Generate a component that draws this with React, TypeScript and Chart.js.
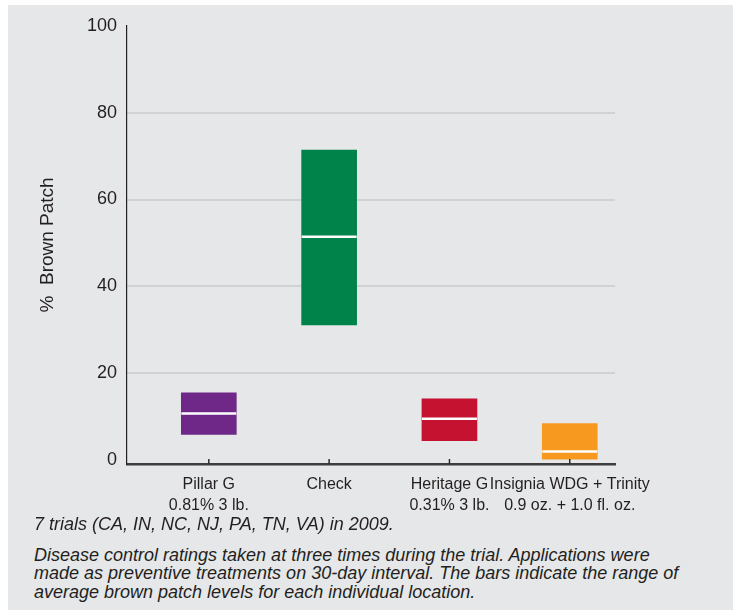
import React, { useEffect, useRef } from 'react';
import { Chart, registerables } from 'chart.js';

Chart.register(...registerables);

// ---- data ----
const categories = ['Pillar G', 'Check', 'Heritage G', 'Insignia WDG + Trinity'];
const rates = ['0.81% 3 lb.', '', '0.31% 3 lb.', '0.9 oz. + 1.0 fl. oz.'];
const lows = [5.9, 31.1, 4.5, 0];
const highs = [15.5, 71.4, 14.1, 8.4];
const medians = [10.7, 51.4, 9.5, 2.0];
const barColors = ['#6f2887', '#00834a', '#c41230', '#f7991f'];
const yTickValues = [0, 20, 40, 60, 80, 100];
const yTitle = '%  Brown Patch';
const note1 = '7 trials (CA, IN, NC, NJ, PA, TN, VA) in 2009.';
const note2 =
  'Disease control ratings taken at three times during the trial. Applications were made as preventive treatments on 30-day interval. The bars indicate the range of average brown patch levels for each individual location.';

const FONT = "'Liberation Sans', Arial, Helvetica, sans-serif";
const TEXT = '#231f20';

const overlayPlugin = {
  id: 'overlay',
  afterDatasetsDraw(chart: any) {
    const ctx = chart.ctx;
    const meta = chart.getDatasetMeta(0);
    const ys = chart.scales.y;
    const xs = chart.scales.x;
    ctx.save();
    ctx.strokeStyle = '#ffffff';
    ctx.lineWidth = 2.5;
    meta.data.forEach((bar: any, i: number) => {
      const { x, width } = bar.getProps(['x', 'width'], true);
      const py = ys.getPixelForValue(medians[i]);
      ctx.beginPath();
      ctx.moveTo(x - width / 2, py);
      ctx.lineTo(x + width / 2, py);
      ctx.stroke();
    });
    ctx.strokeStyle = '#2b2b2d';
    ctx.lineWidth = 1.5;
    const b = chart.chartArea.bottom;
    xs.ticks.forEach((t: any) => {
      const px = xs.getPixelForValue(t.value);
      ctx.beginPath();
      ctx.moveTo(px, b);
      ctx.lineTo(px, b - 5);
      ctx.stroke();
    });
    ctx.restore();
  },
};

export default function App() {
  const ref = useRef<HTMLCanvasElement | null>(null);

  useEffect(() => {
    if (!ref.current) return;
    const chart = new Chart(ref.current, {
      type: 'bar',
      data: {
        datasets: [
          {
            data: categories.map((_, i) => ({ x: i, y: [lows[i], highs[i]] })) as any,
            backgroundColor: barColors,
            borderWidth: 0,
            barThickness: 55,
          },
        ],
      },
      options: {
        animation: false,
        responsive: false,
        maintainAspectRatio: false,
        layout: { padding: { left: 0, right: 118, top: 15, bottom: 0 } },
        plugins: { legend: { display: false }, tooltip: { enabled: false } },
        scales: {
          x: {
            type: 'linear',
            offset: false,
            min: -0.68,
            max: 3.376,
            afterBuildTicks: (s: any) => {
              s.ticks = categories.map((_, i) => ({ value: i }));
            },
            afterFit: (s: any) => {
              s.height = 56;
            },
            grid: { display: true, color: 'rgba(0,0,0,0)', drawTicks: false, offset: false },
            border: { display: true, color: '#3d3d3f', width: 2.5 },
            ticks: {
              autoSkip: false,
              maxRotation: 0,
              minRotation: 0,
              padding: 10,
              color: TEXT,
              font: { family: FONT, size: 16, lineHeight: 1.3 },
              callback: (v: any) => {
                const i = Number(v);
                return rates[i] ? [categories[i], rates[i]] : categories[i];
              },
            },
          },
          y: {
            min: -0.9,
            max: 100,
            afterBuildTicks: (s: any) => {
              s.ticks = yTickValues.map((v) => ({ value: v }));
            },
            afterFit: (s: any) => {
              s.width = 119;
            },
            grid: {
              color: (c: any) =>
                c.tick && (c.tick.value === 0 || c.tick.value === 100) ? 'rgba(0,0,0,0)' : '#d1d2d4',
              lineWidth: 2,
              drawTicks: false,
            },
            border: { display: true, color: TEXT, width: 1.2 },
            ticks: { padding: 10, color: TEXT, font: { family: FONT, size: 18 } },
            title: {
              display: true,
              text: yTitle,
              color: TEXT,
              font: { family: FONT, size: 19 },
              padding: { top: 28, bottom: 0 },
            },
          },
        },
      },
      plugins: [overlayPlugin],
    });
    return () => chart.destroy();
  }, []);

  return (
    <div
      style={{
        position: 'absolute',
        left: 8,
        top: 5,
        width: 725,
        height: 605,
        background: '#e6e7e9',
        fontFamily: FONT,
        color: TEXT,
        overflow: 'hidden',
      }}
    >
      <canvas ref={ref} width={725} height={515} style={{ display: 'block', width: 725, height: 515 }} />
      <div
        style={{
          position: 'absolute',
          left: 26,
          top: 510,
          fontSize: 18,
          lineHeight: '18.5px',
          fontStyle: 'italic',
          whiteSpace: 'nowrap',
        }}
      >
        {note1}
      </div>
      <div
        style={{
          position: 'absolute',
          left: 26,
          top: 541,
          width: 660,
          fontSize: 18,
          lineHeight: '18.3px',
          fontStyle: 'italic',
        }}
      >
        {note2}
      </div>
    </div>
  );
}
